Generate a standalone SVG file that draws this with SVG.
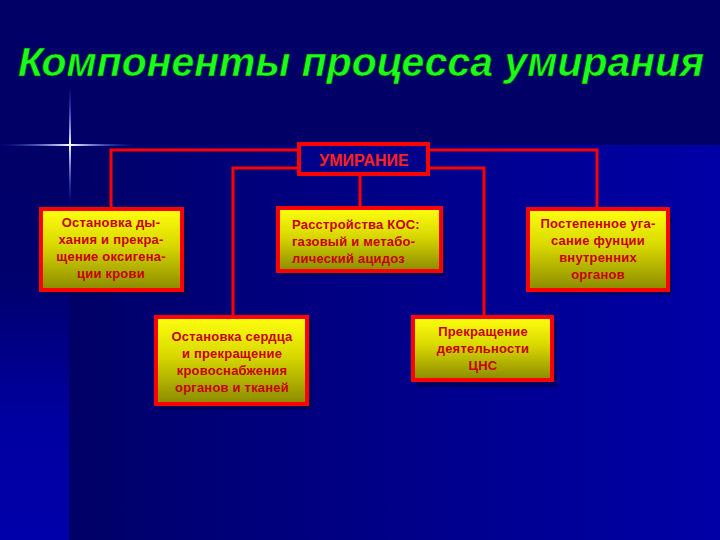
<svg xmlns="http://www.w3.org/2000/svg" width="720" height="540" viewBox="0 0 720 540">
<defs>
<linearGradient id="main" x1="0" y1="0" x2="1" y2="0">
<stop offset="0" stop-color="#000068"/>
<stop offset="0.5" stop-color="#000088"/>
<stop offset="1" stop-color="#0000a6"/>
</linearGradient>
<linearGradient id="strip" x1="0" y1="0" x2="0" y2="1">
<stop offset="0" stop-color="#000066"/>
<stop offset="0.35" stop-color="#00006e"/>
<stop offset="0.7" stop-color="#0000a0"/>
<stop offset="1" stop-color="#0000aa"/>
</linearGradient>
<linearGradient id="fill" x1="0" y1="0" x2="0" y2="1">
<stop offset="0" stop-color="#ffff10"/>
<stop offset="0.45" stop-color="#d8d800"/>
<stop offset="1" stop-color="#8a8a00"/>
</linearGradient>
<linearGradient id="starV" x1="0" y1="0" x2="0" y2="1">
<stop offset="0" stop-color="#2244ff" stop-opacity="0"/>
<stop offset="0.5" stop-color="#ffffff"/>
<stop offset="1" stop-color="#2244ff" stop-opacity="0"/>
</linearGradient>
<linearGradient id="starH" x1="0" y1="0" x2="1" y2="0">
<stop offset="0" stop-color="#2244ff" stop-opacity="0"/>
<stop offset="0.52" stop-color="#ffffff"/>
<stop offset="1" stop-color="#2244ff" stop-opacity="0"/>
</linearGradient>
<style>
.box{fill:url(#fill);stroke:#ff0000;stroke-width:4}
.shadow{fill:#000040;opacity:0.55}
.t{font-family:"Liberation Sans",Arial,sans-serif;font-weight:bold;font-size:13px;fill:#c80000;letter-spacing:0.2px}
.c{text-anchor:middle}
.con{fill:none;stroke:#ff0000;stroke-width:3}
</style>
</defs>
<rect width="720" height="540" fill="#000066"/>
<rect x="0" y="145" width="69" height="395" fill="url(#strip)"/>
<rect x="69" y="145" width="651" height="395" fill="url(#main)"/>
<rect x="69" y="145" width="40" height="395" fill="#000066" opacity="0.5"/>
<g id="star">
<rect x="69" y="85" width="2" height="120" fill="url(#starV)"/>
<rect x="0" y="144" width="135" height="2" fill="url(#starH)"/>
</g>
<text x="361" y="76" text-anchor="middle" textLength="686" lengthAdjust="spacingAndGlyphs" font-family="'Liberation Sans',Arial,sans-serif" font-weight="bold" font-style="italic" font-size="40" fill="#1aff1a" stroke="#003300" stroke-width="0.6">Компоненты процесса умирания</text>
<g id="connectors">
<path class="con" d="M299,150 H111 V208"/>
<path class="con" d="M429,150 H597 V208"/>
<path class="con" d="M299,168 H233 V316"/>
<path class="con" d="M429,168 H484 V316"/>
<path class="con" d="M360,175 V208"/>
</g>
<g id="root">
<rect x="299" y="144" width="129" height="30" fill="#00008a" stroke="#ff0000" stroke-width="4"/>
<text x="364" y="166" text-anchor="middle" font-family="'Liberation Sans',Arial,sans-serif" font-weight="bold" font-size="16" fill="#ff2020">УМИРАНИЕ</text>
</g>
<g id="n1">
<rect class="shadow" x="45" y="213" width="142" height="82"/>
<rect class="box" x="41" y="209" width="141" height="81"/>
<text class="t c" x="111" y="227">Остановка ды-</text>
<text class="t c" x="111" y="244">хания и прекра-</text>
<text class="t c" x="111" y="261">щение оксигена-</text>
<text class="t c" x="111" y="278">ции крови</text>
</g>
<g id="n2">
<rect class="shadow" x="282" y="212" width="163" height="64"/>
<rect class="box" x="278" y="208" width="163" height="63"/>
<text class="t" x="292" y="229">Расстройства КОС:</text>
<text class="t" x="292" y="246">газовый и метабо-</text>
<text class="t" x="292" y="263">лический ацидоз</text>
</g>
<g id="n3">
<rect class="shadow" x="532" y="213" width="140" height="82"/>
<rect class="box" x="528" y="209" width="140" height="81"/>
<text class="t c" x="598" y="228">Постепенное уга-</text>
<text class="t c" x="598" y="245">сание фунции</text>
<text class="t c" x="598" y="262">внутренних</text>
<text class="t c" x="598" y="279">органов</text>
</g>
<g id="n4">
<rect class="shadow" x="160" y="321" width="152" height="89"/>
<rect class="box" x="156" y="317" width="151" height="87"/>
<text class="t c" x="232" y="341">Остановка сердца</text>
<text class="t c" x="232" y="358">и прекращение</text>
<text class="t c" x="232" y="375">кровоснабжения</text>
<text class="t c" x="232" y="392">органов и тканей</text>
</g>
<g id="n5">
<rect class="shadow" x="417" y="321" width="140" height="66"/>
<rect class="box" x="413" y="317" width="139" height="63"/>
<text class="t c" x="483" y="336">Прекращение</text>
<text class="t c" x="483" y="353">деятельности</text>
<text class="t c" x="483" y="370">ЦНС</text>
</g>
</svg>
